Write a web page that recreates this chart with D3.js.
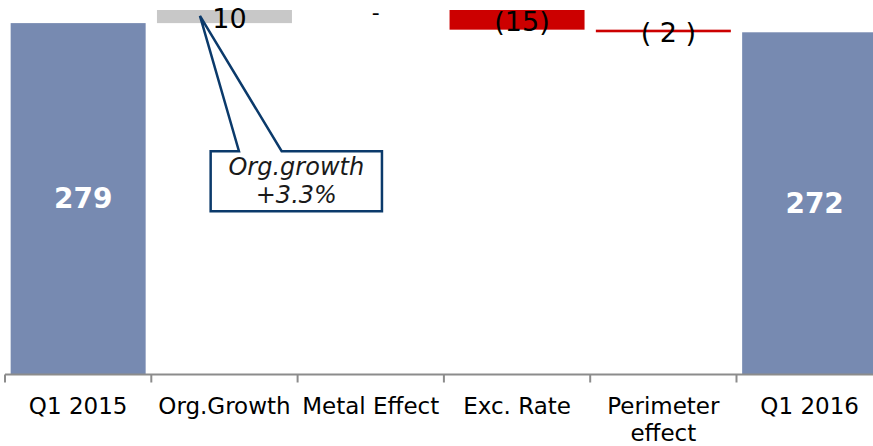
<!DOCTYPE html>
<html><head><meta charset="utf-8">
<script src="https://cdn.jsdelivr.net/npm/d3@7/dist/d3.min.js"></script>
<style>html,body{margin:0;padding:0;background:#fff;overflow:hidden}</style>
</head><body>
<svg id="chart" width="873" height="446"></svg>
<script>
const categories = ["Q1 2015", "Org.Growth", "Metal Effect", "Exc. Rate", "Perimeter effect", "Q1 2016"];
const axisLabels = [["Q1 2015"], ["Org.Growth"], ["Metal Effect"], ["Exc. Rate"], ["Perimeter", "effect"], ["Q1 2016"]];
const values = [279, 10, 0, -15, -2, 272];
const kinds = ["total", "delta", "delta", "delta", "delta", "total"];
const valueLabels = ["279", "10", "-", "(15)", "( 2 )", "272"];
const calloutLines = ["Org.growth", "+3.3%"];

const colors = { total: "#778AB1", up: "#C8C8C8", down: "#CC0000" };
const FONT = "'DejaVu Sans', Verdana, sans-serif";

// build waterfall table
let running = 0;
const rows = categories.map((c, i) => {
  let start, end;
  if (kinds[i] === "total") { start = 0; end = values[i]; running = values[i]; }
  else { start = running; end = running + values[i]; running = end; }
  return { cat: c, value: values[i], kind: kinds[i], start, end, label: valueLabels[i], axis: axisLabels[i] };
});

const svg = d3.select("#chart");
const axisY = 374.5;

const x = d3.scaleBand().domain(categories).range([5, 882.8]).paddingInner(0.0773).paddingOuter(0.0387);
const y = d3.scaleLinear().domain([11, 289]).range([axisY, 10]);

svg.append("defs").append("clipPath").attr("id", "plot")
  .append("rect").attr("x", 0).attr("y", 0).attr("width", 900).attr("height", axisY);

const g = svg.append("g").attr("clip-path", "url(#plot)");
g.selectAll("rect.bar").data(rows.filter(d => d.value !== 0)).join("rect")
  .attr("class", "bar")
  .attr("x", d => x(d.cat))
  .attr("width", x.bandwidth())
  .attr("y", d => y(Math.max(d.start, d.end)))
  .attr("height", d => Math.abs(y(d.start) - y(d.end)))
  .attr("fill", d => d.kind === "total" ? colors.total : (d.value > 0 ? colors.up : colors.down));

// axis
const step = x.step();
const half = x.paddingInner() * step / 2;
svg.append("line").attr("x1", x(categories[0]) - half).attr("x2", 900)
  .attr("y1", axisY).attr("y2", axisY).attr("stroke", "#8C8C8C").attr("stroke-width", 2);
svg.selectAll("line.tick").data(categories).join("line").attr("class", "tick")
  .attr("x1", d => x(d) - half).attr("x2", d => x(d) - half)
  .attr("y1", axisY).attr("y2", axisY + 8).attr("stroke", "#8C8C8C").attr("stroke-width", 2);

const al = svg.selectAll("text.axl").data(rows).join("text").attr("class", "axl")
  .attr("x", d => x(d.cat) + x.bandwidth() / 2)
  .attr("y", 413.5)
  .attr("text-anchor", "middle")
  .attr("font-family", FONT).attr("font-size", 23).attr("fill", "#000");
al.selectAll("tspan").data(d => d.axis).join("tspan")
  .attr("x", function () { return d3.select(this.parentNode).attr("x"); })
  .attr("dy", (d, i) => i === 0 ? 0 : 27)
  .text(d => d);

// value labels
svg.selectAll("text.val").data(rows).join("text").attr("class", "val")
  .attr("x", d => x(d.cat) + x.bandwidth() / 2 + 5)
  .attr("y", d => d.kind === "total" ? (y(d.end) + axisY) / 2 : (y(d.start) + y(d.end)) / 2 + 2)
  .attr("dominant-baseline", "central")
  .attr("text-anchor", "middle")
  .attr("font-family", FONT)
  .attr("font-size", d => d.kind === "total" ? 28 : (d.value === 0 ? 22 : 27))
  .attr("font-weight", d => d.kind === "total" ? "bold" : "normal")
  .attr("fill", d => d.kind === "total" ? "#fff" : "#000")
  .text(d => d.label);

// callout for organic growth
const og = rows[1];
const bx = x(og.cat);
const tipX = bx + 43, tipY = y(284.5);
const boxL = bx + 53.7, boxR = bx + 225, boxT = y(181.3), boxB = y(135.6);
const p1 = bx + 82, p2 = bx + 124.7;
const path = d3.path();
path.moveTo(boxL, boxT); path.lineTo(p1, boxT); path.lineTo(tipX, tipY); path.lineTo(p2, boxT);
path.lineTo(boxR, boxT); path.lineTo(boxR, boxB); path.lineTo(boxL, boxB); path.closePath();
svg.append("path").attr("d", path.toString()).attr("fill", "#fff")
  .attr("stroke", "#0B3A6B").attr("stroke-width", 2.5).attr("stroke-linejoin", "miter");
svg.selectAll("text.co").data(calloutLines).join("text").attr("class", "co")
  .attr("x", (boxL + boxR) / 2).attr("y", (d, i) => 175 + i * 28)
  .attr("text-anchor", "middle").attr("font-family", FONT).attr("font-style", "italic")
  .attr("font-size", 24).attr("fill", "#1a1a1a").text(d => d);
</script>
</body></html>
